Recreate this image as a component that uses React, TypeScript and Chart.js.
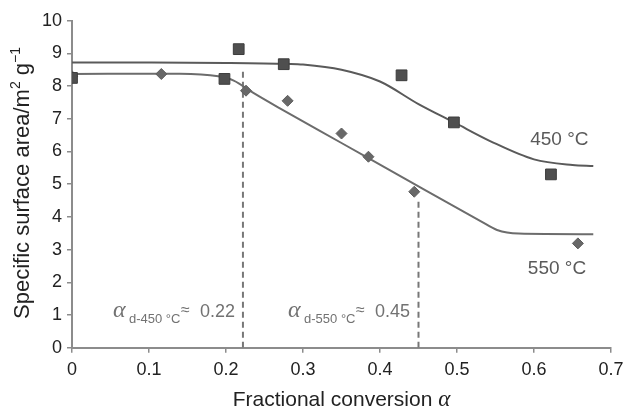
import React, { useEffect, useRef } from 'react';
import { Chart, registerables } from 'chart.js';

Chart.register(...registerables);

// Measured data points
const squares450X = [0, 0.198, 0.2165, 0.275, 0.428, 0.496, 0.622];
const squares450Y = [8.25, 8.22, 9.13, 8.67, 8.33, 6.89, 5.3];

const diamonds550X = [0, 0.116, 0.226, 0.28, 0.35, 0.385, 0.4445, 0.657];
const diamonds550Y = [8.3, 8.37, 7.86, 7.55, 6.55, 5.84, 4.77, 3.19];

// Fitted curves
const curve450X = [0, 0.1, 0.2, 0.28, 0.3, 0.35, 0.4, 0.45, 0.497, 0.543, 0.6, 0.65, 0.677];
const curve450Y = [8.72, 8.72, 8.71, 8.68, 8.66, 8.5, 8.14, 7.45, 6.88, 6.32, 5.76, 5.59, 5.56];

const curve550X = [0, 0.14, 0.19, 0.21, 0.235, 0.27, 0.35, 0.45, 0.53, 0.552, 0.58, 0.677];
const curve550Y = [8.37, 8.38, 8.3, 8.17, 7.8, 7.32, 6.26, 4.93, 3.88, 3.6, 3.49, 3.47];

// Dashed markers of critical conversion
const dash450X = [0.222, 0.222];
const dash450Y = [0, 8.5];
const dash550X = [0.45, 0.45];
const dash550Y = [0, 4.55];

const xTickLabels = ['0', '0.1', '0.2', '0.3', '0.4', '0.5', '0.6', '0.7'];
const yTickLabels = ['0', '1', '2', '3', '4', '5', '6', '7', '8', '9', '10'];

const seriesLabels = ['450 °C', '550 °C'];
const annotationSubs = ['d-450 °C', 'd-550 °C'];
const annotationVals = ['0.22', '0.45'];

const pts = (xs: number[], ys: number[]) => xs.map((x, i) => ({ x, y: ys[i] }));

const SANS = '"Liberation Sans", Arial, sans-serif';
const SERIF = '"Liberation Serif", "Times New Roman", serif';

export default function App() {
  const ref = useRef<HTMLCanvasElement>(null);

  useEffect(() => {
    if (!ref.current) return;

    const textPlugin = {
      id: 'texts',
      afterDatasetsDraw(chart: any) {
        const { ctx, scales, chartArea } = chart;
        const xs = scales.x;
        const ys = scales.y;
        ctx.save();
        ctx.textAlign = 'left';
        ctx.textBaseline = 'alphabetic';

        // annotations alpha_d
        const drawAnn = (ax: number, ay: number, sub: string, val: string) => {
          const px = xs.getPixelForValue(ax);
          const py = ys.getPixelForValue(ay);
          ctx.fillStyle = '#727272';
          ctx.font = 'italic 24px ' + SERIF;
          ctx.fillText('α', px, py);
          ctx.font = '13px ' + SANS;
          ctx.fillText(sub, px + 16, py + 6.5);
          ctx.font = '16px ' + SANS;
          ctx.fillText('≈', px + 68, py - 2);
          ctx.font = '18px ' + SANS;
          ctx.fillText(val, px + 87, py);
        };
        drawAnn(0.0532, 0.95, annotationSubs[0], annotationVals[0]);
        drawAnn(0.2806, 0.95, annotationSubs[1], annotationVals[1]);

        // series labels
        ctx.fillStyle = '#5a5a5a';
        ctx.font = '19px ' + SANS;
        ctx.fillText(seriesLabels[0], xs.getPixelForValue(0.595), ys.getPixelForValue(6.2));
        ctx.fillText(seriesLabels[1], xs.getPixelForValue(0.592), ys.getPixelForValue(2.25));

        // x axis title
        ctx.fillStyle = '#222';
        const xt = 'Fractional conversion ';
        ctx.font = '21px ' + SANS;
        const w1 = ctx.measureText(xt).width;
        ctx.font = 'italic 23px ' + SERIF;
        const w2 = ctx.measureText('α').width;
        const cx = (chartArea.left + chartArea.right) / 2;
        const sx = cx - (w1 + w2) / 2;
        const by = 406;
        ctx.font = '21px ' + SANS;
        ctx.fillText(xt, sx, by);
        ctx.font = 'italic 23px ' + SERIF;
        ctx.fillText('α', sx + w1, by);

        // y axis title (rotated)
        const parts: [string, number, number][] = [
          ['Specific surface area/m', 22, 0],
          ['2', 14, -9],
          [' g', 22, 0],
          ['−1', 14, -9],
        ];
        let total = 0;
        for (const [t, s] of parts) {
          ctx.font = s + 'px ' + SANS;
          total += ctx.measureText(t).width;
        }
        ctx.translate(29, 183);
        ctx.rotate(-Math.PI / 2);
        let tx = -total / 2;
        for (const [t, s, dy] of parts) {
          ctx.font = s + 'px ' + SANS;
          ctx.fillText(t, tx, dy);
          tx += ctx.measureText(t).width;
        }
        ctx.restore();
      },
    };

    const chart = new Chart(ref.current, {
      type: 'scatter',
      data: {
        datasets: [
          {
            label: 'sq450',
            data: pts(squares450X, squares450Y),
            pointStyle: 'rect',
            pointRadius: 7.6,
            backgroundColor: '#4f4f4f',
            borderColor: '#3c3c3c',
            borderWidth: 1,
            showLine: false,
          },
          {
            label: 'dia550',
            data: pts(diamonds550X, diamonds550Y),
            pointStyle: 'rectRot',
            pointRadius: 5.5,
            backgroundColor: '#686868',
            borderColor: '#5e5e5e',
            borderWidth: 1,
            showLine: false,
          },
          {
            label: 'fit450',
            data: pts(curve450X, curve450Y),
            showLine: true,
            pointRadius: 0,
            borderColor: '#5a5a5a',
            borderWidth: 2,
            cubicInterpolationMode: 'monotone',
            fill: false,
          },
          {
            label: 'fit550',
            data: pts(curve550X, curve550Y),
            showLine: true,
            pointRadius: 0,
            borderColor: '#6c6c6c',
            borderWidth: 2,
            cubicInterpolationMode: 'monotone',
            fill: false,
          },
          {
            label: 'd450',
            data: pts(dash450X, dash450Y),
            showLine: true,
            pointRadius: 0,
            borderColor: '#777777',
            borderWidth: 2,
            borderDash: [6, 4],
          },
          {
            label: 'd550',
            data: pts(dash550X, dash550Y),
            showLine: true,
            pointRadius: 0,
            borderColor: '#777777',
            borderWidth: 2,
            borderDash: [6, 4],
          },
        ],
      } as any,
      options: {
        responsive: false,
        animation: false,
        layout: { padding: { top: 20.7, right: 13, left: 0, bottom: 0 } },
        plugins: {
          legend: { display: false },
          tooltip: { enabled: false },
          title: { display: false },
        },
        scales: {
          x: {
            type: 'linear',
            min: 0,
            max: 0.7,
            border: { display: true, color: '#8c8c8c', width: 2 },
            grid: {
              display: true,
              drawOnChartArea: false,
              drawTicks: true,
              tickLength: 5,
              color: '#8c8c8c',
              lineWidth: 1.5,
            },
            ticks: {
              stepSize: 0.1,
              padding: 7,
              color: '#222',
              font: { family: SANS, size: 18 },
              callback: (_v: any, i: number) => xTickLabels[i],
              maxRotation: 0,
            },
            afterFit: (s: any) => {
              s.height = 62.3;
              s.paddingLeft = 0;
              s.paddingRight = 0;
            },
          },
          y: {
            type: 'linear',
            min: 0,
            max: 10,
            border: { display: true, color: '#8c8c8c', width: 2 },
            grid: {
              display: true,
              drawOnChartArea: false,
              drawTicks: true,
              tickLength: 5,
              color: '#8c8c8c',
              lineWidth: 1.5,
            },
            ticks: {
              stepSize: 1,
              padding: 5,
              color: '#222',
              font: { family: SANS, size: 18 },
              callback: (_v: any, i: number) => yTickLabels[i],
            },
            afterFit: (s: any) => {
              s.width = 72;
            },
          },
        },
      } as any,
      plugins: [textPlugin],
    });

    return () => chart.destroy();
  }, []);

  return (
    <canvas
      ref={ref}
      width={624}
      height={410}
      style={{ display: 'block', position: 'absolute', left: 0, top: 0 }}
    />
  );
}
